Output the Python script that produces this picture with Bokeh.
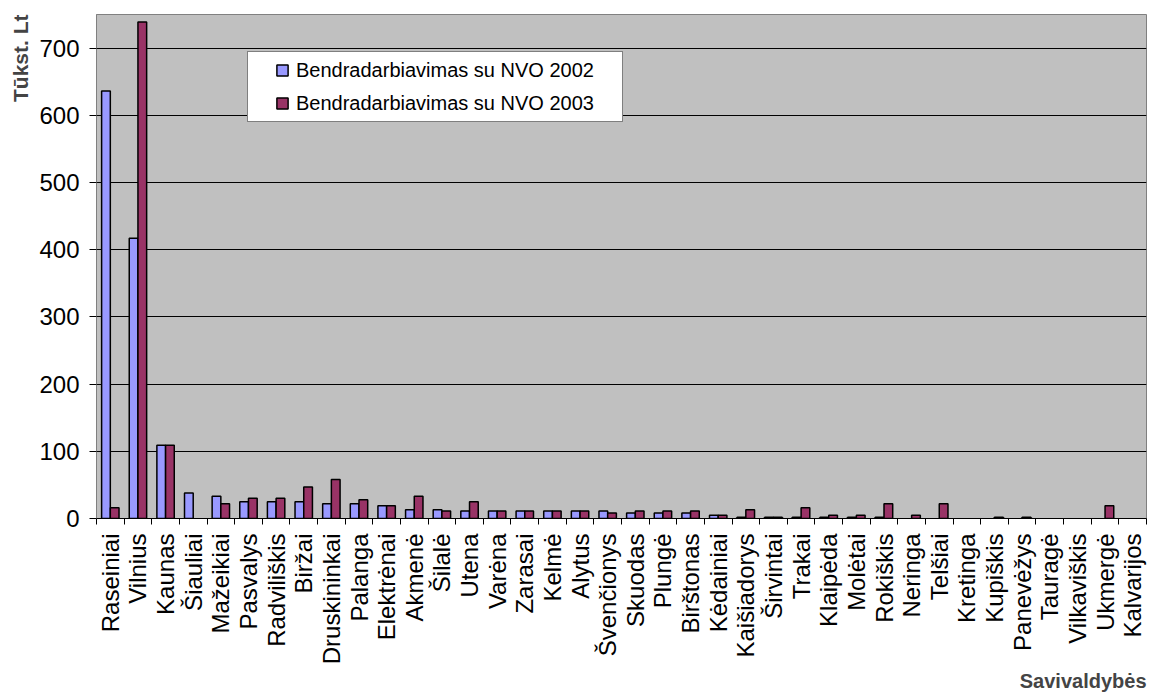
import math

from bokeh.plotting import figure
from bokeh.models import (ColumnDataSource, FixedTicker, Legend, LegendItem,
                          Range1d, Title)
from bokeh.transform import dodge
from bokeh.embed import file_html
from bokeh.resources import INLINE

# Municipalities (savivaldybės) and their cooperation with NGOs, thousand Lt
municipalities = [
    "Raseiniai", "Vilnius", "Kaunas", "Šiauliai", "Mažeikiai", "Pasvalys",
    "Radviliškis", "Biržai", "Druskininkai", "Palanga", "Elektrėnai", "Akmenė",
    "Šilalė", "Utena", "Varėna", "Zarasai", "Kelmė", "Alytus", "Švenčionys",
    "Skuodas", "Plungė", "Birštonas", "Kėdainiai", "Kaišiadorys", "Širvintai",
    "Trakai", "Klaipėda", "Molėtai", "Rokiškis", "Neringa", "Telšiai",
    "Kretinga", "Kupiškis", "Panevėžys", "Tauragė", "Vilkaviškis", "Ukmergė",
    "Kalvarijos",
]
ngo_2002 = [636, 417, 109, 38, 33, 25, 25, 25, 22, 22, 19, 13, 13, 11, 11, 11,
            11, 11, 11, 8, 8, 8, 5, 2, 2, 2, 2, 2, 2, 0, 0, 0, 0, 0, 0, 0, 0, 0]
ngo_2003 = [16, 739, 109, 0, 22, 30, 30, 47, 58, 28, 19, 33, 11, 25, 11, 11,
            11, 11, 8, 11, 11, 11, 5, 13, 2, 16, 5, 5, 22, 5, 22, 0, 2, 2, 0, 0,
            19, 0]
series_labels = ["Bendradarbiavimas su NVO 2002", "Bendradarbiavimas su NVO 2003"]
y_ticks = [0, 100, 200, 300, 400, 500, 600, 700]

COL_2002 = "#9999FF"
COL_2003 = "#993366"
FONT = "Liberation Sans"

n = len(municipalities)
idx = list(range(n))
nan = float("nan")
source = ColumnDataSource(dict(
    x=idx,
    y2002=[v if v > 0 else nan for v in ngo_2002],
    y2003=[v if v > 0 else nan for v in ngo_2003],
))

p = figure(width=1149, height=693, output_backend="svg", toolbar_location=None,
           x_range=Range1d(-0.5, n - 0.5), y_range=Range1d(0, 750),
           min_border_left=96, min_border_right=3, min_border_top=14,
           min_border_bottom=175,
           background_fill_color="#C0C0C0", border_fill_color="white",
           outline_line_color="#808080", outline_line_width=1)
p.title.visible = False

bar_w = 0.315
p.vbar(x=dodge("x", -bar_w / 2), top="y2002", width=bar_w, source=source,
       fill_color=COL_2002, line_color="black", line_width=1.5)
p.vbar(x=dodge("x", bar_w / 2), top="y2003", width=bar_w, source=source,
       fill_color=COL_2003, line_color="black", line_width=1.5)

# legend swatches (renderers that carry no visible point)
sw_a = p.scatter(x=[nan], y=[nan], marker="square", size=11,
                 fill_color=COL_2002, line_color="black", line_width=1.5)
sw_b = p.scatter(x=[nan], y=[nan], marker="square", size=11,
                 fill_color=COL_2003, line_color="black", line_width=1.5)
blank = p.scatter(x=[nan], y=[nan], marker="square", size=1,
                  fill_alpha=0, line_alpha=0)

ROW_H, ROW_GAP, PAD = 28, 5, 4
LEG_X, LEG_Y = 151, 396

# white framed box of the legend
legend_box = Legend(items=[LegendItem(label=" ", renderers=[blank], index=0),
                           LegendItem(label=" ", renderers=[blank], index=0)],
                    location=(LEG_X, LEG_Y), margin=0, padding=PAD,
                    spacing=ROW_GAP, glyph_width=1, glyph_height=ROW_H,
                    label_standoff=0, label_width=365,
                    label_text_font=FONT, label_text_font_size="20px",
                    border_line_color="black", border_line_width=1,
                    background_fill_color="white", background_fill_alpha=1)
p.add_layout(legend_box)

# legend entries, inset from the box edge
legend = Legend(items=[LegendItem(label=series_labels[0], renderers=[sw_a], index=0),
                       LegendItem(label=series_labels[1], renderers=[sw_b], index=0)],
                location=(LEG_X + 21, LEG_Y + 5), margin=0, padding=PAD,
                spacing=ROW_GAP, glyph_width=28, glyph_height=ROW_H,
                label_standoff=0,
                label_text_font=FONT, label_text_font_size="20px",
                label_text_color="black",
                border_line_color=None, background_fill_alpha=0)
p.add_layout(legend)

# y axis
p.yaxis.ticker = FixedTicker(ticks=y_ticks)
p.yaxis.major_tick_in = 0
p.yaxis.major_tick_out = 7
p.yaxis.minor_tick_line_color = None
p.yaxis.axis_line_color = "#808080"
p.yaxis.major_tick_line_color = "black"
p.yaxis.major_label_standoff = 10
p.yaxis.major_label_text_font = FONT
p.yaxis.major_label_text_font_size = "24px"
p.yaxis.major_label_text_color = "black"
p.ygrid.ticker = FixedTicker(ticks=y_ticks)
p.ygrid.grid_line_color = "black"
p.ygrid.grid_line_width = 1
p.xgrid.visible = False

# x axis: labels at category centres, tick marks between categories
p.xaxis.ticker = FixedTicker(ticks=idx, minor_ticks=[i - 0.5 for i in range(n + 1)])
p.xaxis.major_label_overrides = {i: name for i, name in enumerate(municipalities)}
p.xaxis.major_label_orientation = math.pi / 2
p.xaxis.major_tick_line_color = None
p.xaxis.major_tick_in = 0
p.xaxis.major_tick_out = 6
p.xaxis.minor_tick_in = 0
p.xaxis.minor_tick_out = 6
p.xaxis.minor_tick_line_color = "black"
p.xaxis.axis_line_color = "black"
p.xaxis.major_label_standoff = 9
p.xaxis.major_label_text_font = FONT
p.xaxis.major_label_text_font_size = "24px"
p.xaxis.major_label_text_color = "black"

p.add_layout(Title(text="Tūkst. Lt", align="right", text_font=FONT,
                   text_font_size="21px", text_font_style="bold"), "left")
p.add_layout(Title(text="Savivaldybės", align="right", text_font=FONT,
                   text_font_size="20px", text_font_style="bold", standoff=0),
             "below")

open("out.html", "w").write(file_html(p, INLINE))
